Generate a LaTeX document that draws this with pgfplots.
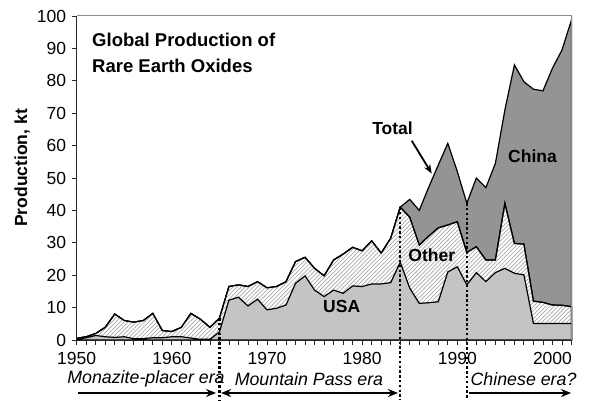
\documentclass[border=0pt]{standalone}
\usepackage{fontspec}
\setmainfont{Liberation Sans}
\usepackage{pgfplots}
\usepackage{pgfplotstable}
\pgfplotsset{compat=1.18}
\usetikzlibrary{patterns.meta,arrows.meta}
\definecolor{chinagray}{gray}{0.58}
\definecolor{usagray}{gray}{0.77}
\definecolor{hatchgray}{gray}{0.66}
\definecolor{framegray}{gray}{0.55}

\pgfplotstableread{
year total uo usa
1950 0.5 0.5 0.2
1951 1.0 1.0 0.7
1952 2.0 2.0 1.4
1953 3.9 3.9 1.0
1954 8.0 8.0 0.8
1955 6.0 6.0 1.0
1956 5.5 5.5 0.4
1957 6.0 6.0 0.4
1958 8.2 8.2 0.7
1959 2.9 2.9 0.7
1960 2.6 2.6 1.0
1961 3.9 3.9 1.0
1962 8.2 8.2 0.6
1963 6.4 6.4 0.2
1964 3.9 3.9 0.2
1965 6.7 6.7 2.5
1966 16.5 16.5 12.3
1967 17.0 17.0 13.2
1968 16.5 16.5 10.5
1969 18.0 18.0 12.6
1970 16.1 16.1 9.3
1971 16.5 16.5 9.8
1972 18.0 18.0 10.8
1973 24.2 24.2 17.5
1974 25.5 25.5 19.8
1975 22.1 22.1 15.4
1976 19.8 19.8 13.4
1977 24.7 24.7 15.4
1978 26.5 26.5 14.4
1979 28.6 28.6 16.7
1980 27.5 27.5 16.5
1981 30.6 30.6 17.3
1982 26.8 26.8 17.3
1983 31.4 31.4 17.7
1984 41.0 41.0 24.0
1985 43.4 37.9 16.0
1986 40.0 29.3 11.3
1987 47.2 32.1 11.5
1988 54.0 34.6 11.8
1989 60.7 35.5 21.0
1990 52.0 36.5 22.6
1991 42.2 27.0 17.0
1992 50.0 28.8 20.8
1993 47.0 24.7 18.0
1994 54.5 24.7 20.8
1995 71.0 42.2 22.1
1996 84.9 29.8 20.6
1997 79.7 29.6 20.1
1998 77.4 12.0 5.1
1999 76.9 11.6 5.1
2000 83.9 10.8 5.1
2001 89.5 10.7 5.1
2002 98.8 10.3 5.1
}\data

\begin{document}
\begin{tikzpicture}
\useasboundingbox (0,0) rectangle (592pt,401pt);
\begin{axis}[
  at={(76.7pt,61pt)}, anchor=south west,
  width=494.8pt, height=324pt, scale only axis,
  xmin=1950, xmax=2002, ymin=0, ymax=100,
  axis lines*=left,
  axis line style={black!85, line width=0.9pt},
  xtick={1950,1960,...,2000},
  minor xtick={1951,1952,...,2002},
  ytick={0,10,...,100},
  tick align=outside,
  major tick length=5pt, minor tick length=5pt,
  tick style={black!85, line width=0.8pt},
  /pgf/number format/assume math mode=true,
  ticklabel style={font=\fontsize{17.5}{20}\selectfont},
  xticklabel style={/pgf/number format/1000 sep={}, yshift=-4pt},
  yticklabel style={xshift=-2pt},
  ylabel={Production, kt},
  ylabel style={font=\bfseries\fontsize{17.5}{20}\selectfont, at={(axis description cs:-0.1105,0.531)}, anchor=center},
  clip=false,
  no markers,
  axis on top,
]
\addplot[draw=black, line width=1.2pt, fill=chinagray] table[x=year,y=total] {\data} \closedcycle;
\addplot[draw=black, line width=1.2pt, preaction={fill=white}, pattern={Lines[angle=45,distance=2.9pt,line width=0.7pt]}, pattern color=hatchgray] table[x=year,y=uo] {\data} \closedcycle;
\addplot[draw=black, line width=1.2pt, fill=usagray] table[x=year,y=usa] {\data} \closedcycle;

\draw[framegray, line width=1pt] (rel axis cs:0,1) -- (rel axis cs:1,1) -- (rel axis cs:1,0);

% era dividers
\draw[line width=2.4pt, dash pattern=on 2.4pt off 2.4pt] (axis cs:1965,6.7) -- (axis cs:1965,-18.5);
\draw[line width=2.4pt, dash pattern=on 2.4pt off 2.4pt] (axis cs:1984,41.0) -- (axis cs:1984,-18.5);
\draw[line width=2.4pt, dash pattern=on 2.4pt off 2.4pt] (axis cs:1991,42.2) -- (axis cs:1991,-18.5);

% labels
\node[anchor=north west, align=left, inner sep=0pt, font=\bfseries\fontsize{18.5}{25.5}\selectfont] at (rel axis cs:0.031,0.9475) {Global Production of\\Rare Earth Oxides};
\node[font=\bfseries\fontsize{17.5}{20}\selectfont] at (axis cs:1983.19,65.4) {Total};
\draw[-{Stealth[length=9pt,width=7pt]}, line width=1.8pt] (axis cs:1985.21,61.5) -- (axis cs:1987.31,51.4);
\node[font=\bfseries\fontsize{17.5}{20}\selectfont] at (axis cs:1997.9,56.6) {China};
\node[font=\bfseries\fontsize{17.5}{20}\selectfont] at (axis cs:1987.31,26.2) {Other};
\node[font=\bfseries\fontsize{17.5}{20}\selectfont] at (axis cs:1977.85,10.3) {USA};

% eras
\node[font=\itshape\fontsize{17.8}{20}\selectfont] at (axis cs:1957.28,-12.04) {Monazite-placer era};
\node[font=\itshape\fontsize{17.8}{20}\selectfont] at (axis cs:1974.41,-12.04) {Mountain Pass era};
\node[font=\itshape\fontsize{17.8}{20}\selectfont] at (axis cs:1996.96,-12.04) {Chinese era?};
\draw[-{Stealth[length=10pt,width=8pt]}, line width=2.5pt] (axis cs:1950.1,-16.36) -- (axis cs:1964.64,-16.36);
\draw[{Stealth[length=10pt,width=8pt]}-{Stealth[length=10pt,width=8pt]}, line width=2.5pt] (axis cs:1965.17,-16.36) -- (axis cs:1983.77,-16.36);
\draw[-{Stealth[length=10pt,width=8pt]}, line width=2.5pt] (axis cs:1991.23,-16.36) -- (axis cs:2001.95,-16.36);
\end{axis}
\end{tikzpicture}
\end{document}
